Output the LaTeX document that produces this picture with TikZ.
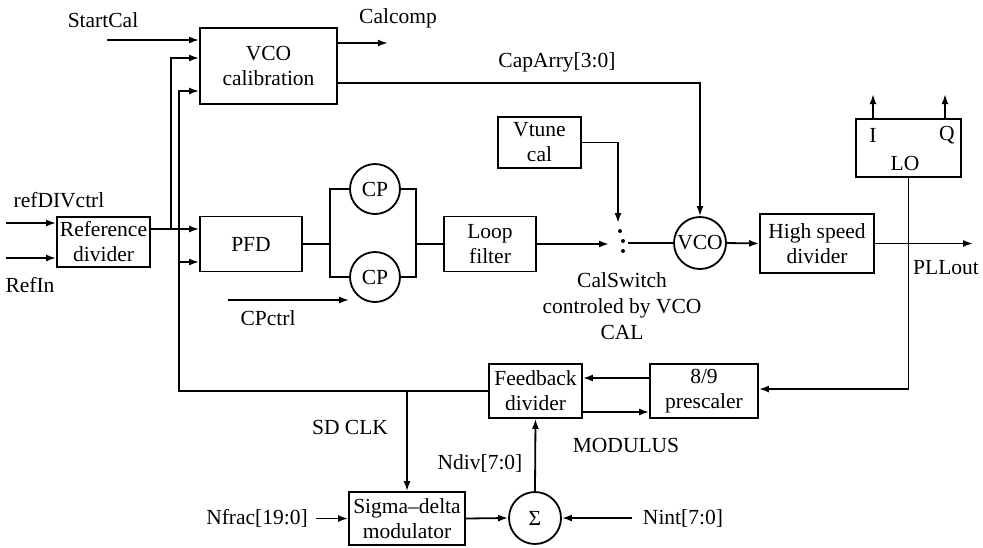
\documentclass[tikz,border=0pt]{standalone}
\usepackage{fontspec}
\setmainfont{Liberation Serif}
\usetikzlibrary{arrows.meta,calc}
\begin{document}
\begin{tikzpicture}[x=1pt,y=-1pt,
  font=\fontsize{21.5}{25}\selectfont,
  blk/.style={draw, line width=1.8pt, inner sep=0pt, align=center},
  circ/.style={draw, circle, line width=1.8pt, inner sep=0pt},
  wire/.style={line width=1.8pt},
  arr/.style={wire, -{Latex[length=10pt,width=7pt]}},
  lbl/.style={inner sep=0pt, align=center}]
\useasboundingbox (0,0) rectangle (983,547);

% blocks
\node[blk, minimum width=137pt, minimum height=76pt] (vcocal) at (268.5,66) {VCO\\calibration};
\node[blk, minimum width=93pt, minimum height=50pt] (refdiv) at (103.5,242) {Reference\\divider};
\node[blk, minimum width=102pt, minimum height=55pt] (pfd) at (251,244) {PFD};
\node[circ, minimum size=50pt] (cp1) at (375,189) {CP};
\node[circ, minimum size=50pt] (cp2) at (375,277) {CP};
\node[blk, minimum width=92pt, minimum height=55pt] (loop) at (490,244) {Loop\\filter};
\node[blk, minimum width=83pt, minimum height=51pt] (vtune) at (539.5,142.5) {Vtune\\cal};
\node[circ, minimum size=52pt] (vco) at (700,243) {VCO};
\node[blk, minimum width=114pt, minimum height=59pt] (hsd) at (817,243.5) {High speed\\divider};
\node[blk, minimum width=105pt, minimum height=58pt] (lo) at (908.5,148) {};
\node[lbl] (loI) at (873,135) {I};
\node[lbl] (loQ) at (947,135) {Q};
\node[lbl] (loL) at (905,163) {LO};
\node[blk, minimum width=93pt, minimum height=54pt] (fb) at (535.5,391) {Feedback\\divider};
\node[blk, minimum width=108pt, minimum height=54pt] (pre) at (704,391) {8/9\\prescaler};
\node[blk, minimum width=116pt, minimum height=53pt] (sdm) at (407,518.5) {Sigma–delta\\modulator};
\node[circ, minimum size=52pt] (sum) at (535,518) {Σ};

% labels
\node[lbl] (tstart) at (103,20) {StartCal};
\node[lbl] (tcalcomp) at (398,18) {Calcomp};
\node[lbl] (tcap) at (557,62) {CapArry[3:0]};
\node[lbl] (tref) at (59,200) {refDIVctrl};
\node[lbl] (trefin) at (30,285) {RefIn};
\node[lbl] (tcp) at (268,318) {CPctrl};
\node[lbl, font=\fontsize{21.5}{26}\selectfont] (tsw) at (622,306) {CalSwitch\\controled by VCO\\CAL};
\node[lbl] (tpll) at (946,268) {PLLout};
\node[lbl] (tsd) at (350,427) {SD CLK};
\node[lbl] (tndiv) at (480,463) {Ndiv[7:0]};
\node[lbl] (tmod) at (626,445) {MODULUS};
\node[lbl] (tnfrac) at (257,518) {Nfrac[19:0]};
\node[lbl] (tnint) at (683,518) {Nint[7:0]};

% VCO calibration connections
\draw[arr] ($(vcocal.west)+(-92,-26)$) -- ($(vcocal.west)+(0,-26)$);
\draw[arr] ($(vcocal.east)+(0,-23)$) -- ++(50,0);
\draw[arr] ($(vcocal.east)+(0,17)$) -| (vco.north);

% reference divider
\draw[arr] ($(refdiv.west)+(-50,-19)$) -- ($(refdiv.west)+(0,-19)$);
\draw[arr] ($(refdiv.west)+(-50,16)$) -- ($(refdiv.west)+(0,16)$);
\draw[arr] ($(refdiv.east)+(0,-13)$) -- ($(pfd.west)+(0,-15)$);
\draw[arr] ($(refdiv.east)+(20,-13)$) |- ($(vcocal.west)+(0,-8)$);

% feedback path
\draw[arr] (fb.west) -| ($(vcocal.west)+(-20,25)$) -- ($(vcocal.west)+(0,25)$);
\draw[arr] ($(pfd.west)+(-20,18)$) -- ($(pfd.west)+(0,18)$);

% charge pumps
\coordinate (bl) at ($(pfd.east)+(27,0)$);
\coordinate (br) at ($(loop.west)+(-27,0)$);
\draw[wire] (pfd.east) -- (bl);
\draw[wire] (cp1.west) -| (bl) |- (cp2.west);
\draw[wire] (cp1.east) -| (br) |- (cp2.east);
\draw[wire] (br) -- (loop.west);
\coordinate (cpc) at (228,300);
\draw[arr] (cpc) -- (cpc -| cp2.west);

% switch
\coordinate (swin) at (609,244);
\coordinate (swv) at (618,223);
\coordinate (swo) at (628,243);
\fill (620,231) circle (2pt);
\fill (623,241) circle (2pt);
\fill (623,251) circle (2pt);
\draw[arr] (loop.east) -- (swin);
\draw[arr] (vtune.east) -| (swv);
\draw[wire] (swo) -- (vco.west);

% VCO chain
\draw[arr] (vco.east) -- (hsd.west);
\coordinate (pllout) at (973,243.5);
\draw[arr] (hsd.east) -- (pllout);
\draw[arr] ($(lo.north)+(-35.5,0)$) -- ++(0,-24);
\draw[arr] ($(lo.north)+(36.5,0)$) -- ++(0,-24);
\draw[arr] (lo.south) |- ($(pre.east)+(0,-2)$);

% prescaler / feedback divider
\draw[arr] ($(pre.west)+(0,-13)$) -- ($(fb.east)+(0,-13)$);
\draw[arr] ($(fb.east)+(0,21)$) -- ($(pre.west)+(0,21)$);

% sigma-delta
\draw[arr] (sdm.north |- fb.west) -- (sdm.north);
\draw[arr] ($(sdm.west)+(-32,0)$) -- (sdm.west);
\draw[arr] (sdm.east) -- (sum.west);
\draw[arr] (sum.north) -- (fb.south);
\draw[arr] ($(sum.east)+(70,0)$) -- (sum.east);
\end{tikzpicture}
\end{document}
